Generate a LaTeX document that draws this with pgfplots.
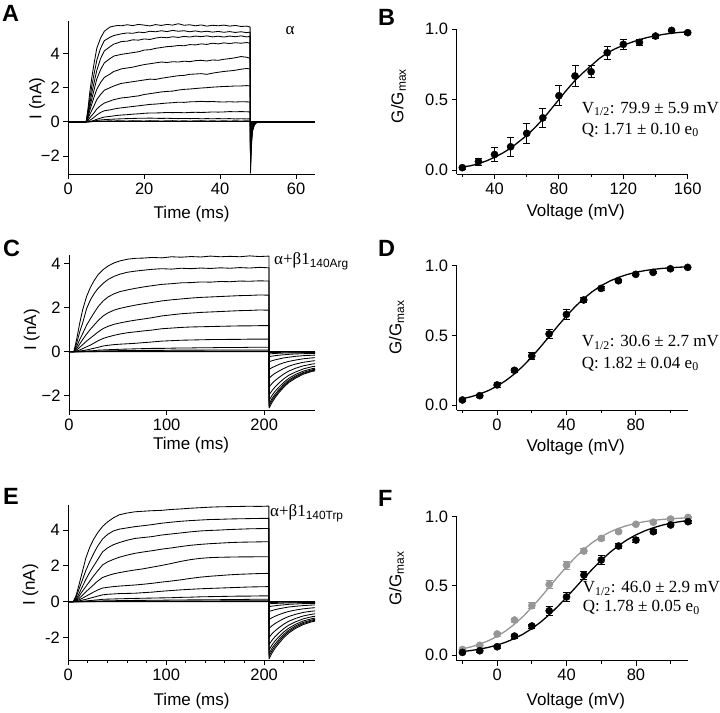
\documentclass[border=0pt]{standalone}
\usepackage{pgfplots}
\pgfplotsset{compat=1.18}
\usepackage{pgfplotstable}
\usepackage{fontspec}
\setmainfont{Liberation Serif}
\setsansfont{Liberation Sans}
\definecolor{mygray}{RGB}{150,150,150}
\newcommand\tfont{\fontsize{16.5}{16.5}\selectfont\sffamily}
\newcommand\lfont{\fontsize{17}{17}\selectfont\sffamily}
\newcommand\afont{\fontsize{17}{17}\selectfont\rmfamily}
\newcommand\pfont{\fontsize{23.5}{23.5}\selectfont\sffamily\bfseries}

\pgfplotstableread{
t a1 a2 a3 a4 a5 a6 a7 a8 a9 a10 a11
0 0 0 0 0 0 0 0 0 0 0 0
4.7 0 0 0 0 0 0 0 0 0 0 0
5.2 0.8 0.6 0.5 0.4 0.3 0.2 0.1 0.04 0.01 0 0
5.7 1.8 1.4 1.1 0.9 0.7 0.45 0.25 0.1 0.03 0.01 0
6.2 2.6 2.1 1.7 1.35 1.05 0.68 0.38 0.17 0.05 0.03 0.01
6.7 3.3 2.7 2.2 1.8 1.4 0.9 0.5 0.25 0.08 0.05 0.02
7.5 4.3 3.6 3.0 2.5 1.9 1.3 0.75 0.4 0.15 0.08 0.03
8.5 4.9 4.3 3.7 3.05 2.3 1.6 0.95 0.55 0.22 0.11 0.04
9.5 5.3 4.75 4.15 3.45 2.6 1.85 1.1 0.65 0.28 0.13 0.05
11 5.55 4.95 4.4 3.7 2.8 2.0 1.22 0.7 0.32 0.15 0.06
12 5.6 5.05 4.55 3.85 2.95 2.1 1.3 0.75 0.35 0.16 0.05
13 5.64 5.1 4.62 3.9 3.02 2.18 1.35 0.79 0.38 0.17 0.07
14 5.62 5.15 4.7 3.95 3.1 2.25 1.4 0.82 0.4 0.18 0.06
15.5 5.68 5.2 4.72 4.0 3.15 2.3 1.43 0.86 0.42 0.19 0.05
17 5.63 5.18 4.8 4.05 3.2 2.35 1.48 0.9 0.45 0.2 0.07
18.5 5.7 5.25 4.78 4.1 3.28 2.4 1.52 0.94 0.47 0.21 0.06
20 5.66 5.22 4.85 4.2 3.35 2.45 1.6 0.98 0.5 0.21 0.05
21.5 5.61 5.3 4.82 4.22 3.4 2.5 1.65 1.02 0.52 0.22 0.07
23 5.69 5.27 4.9 4.3 3.45 2.48 1.7 1.04 0.52 0.21 0.06
24.5 5.64 5.33 4.95 4.35 3.5 2.55 1.75 1.07 0.53 0.2 0.05
26 5.7 5.28 4.92 4.4 3.47 2.6 1.78 1.1 0.55 0.21 0.06
27.5 5.66 5.35 4.98 4.42 3.52 2.65 1.8 1.12 0.54 0.2 0.07
29 5.74 5.3 4.94 4.47 3.5 2.7 1.86 1.15 0.55 0.19 0.05
30.5 5.65 5.33 5.0 4.45 3.55 2.72 1.9 1.14 0.53 0.2 0.06
32 5.68 5.27 4.96 4.52 3.52 2.78 1.92 1.17 0.55 0.19 0.05
33.5 5.62 5.32 5.02 4.5 3.58 2.8 1.95 1.18 0.56 0.2 0.06
35 5.67 5.26 4.98 4.56 3.6 2.82 1.98 1.2 0.55 0.18 0.07
36.5 5.6 5.3 5.03 4.53 3.56 2.78 2.0 1.18 0.56 0.19 0.05
38 5.65 5.25 4.97 4.6 3.62 2.85 2.03 1.19 0.58 0.18 0.06
39.5 5.62 5.29 5.01 4.56 3.6 2.9 2.05 1.17 0.57 0.19 0.05
41 5.66 5.24 4.96 4.62 3.66 2.95 2.07 1.16 0.58 0.18 0.06
42.5 5.6 5.28 5.02 4.58 3.7 2.98 2.08 1.18 0.6 0.19 0.05
44 5.64 5.23 4.98 4.63 3.75 3.02 2.1 1.16 0.59 0.17 0.06
45.5 5.58 5.27 5.03 4.6 3.82 3.08 2.1 1.18 0.6 0.18 0.05
47 5.6 5.22 4.97 4.64 3.78 3.12 2.12 1.17 0.59 0.17 0.06
47.9 5.55 5.25 5.0 4.6 3.72 3.1 2.1 1.16 0.58 0.18 0.05
48 -3.0 -2.8 -2.6 -2.3 -2.0 -1.6 -1.1 -0.7 -0.4 -0.2 -0.08
48.2 -1.6 -1.4 -1.25 -1.1 -0.95 -0.75 -0.5 -0.32 -0.18 -0.09 -0.04
48.5 -0.6 -0.5 -0.45 -0.4 -0.35 -0.28 -0.2 -0.12 -0.07 -0.03 -0.01
49 -0.2 -0.17 -0.15 -0.13 -0.11 -0.09 -0.06 -0.04 -0.02 -0.01 0
49.5 -0.06 -0.05 -0.05 -0.04 -0.03 -0.03 -0.02 -0.01 0 0 0
50.5 0 0 0 0 0 0 0 0 0 0 0
65 0 0 0 0 0 0 0 0 0 0 0
}\tabA

\pgfplotstableread{
t c1 c2 c3 c4 c5 c6 c7 c8 c9 c10 c11 c12
0 0 0 0 0 0 0 0 0 0 0 0 0
5 0 0 0 0 0 0 0 0 0 0 0 0
8 0.6 0.4 0.25 0.15 0.08 0.03 0.01 0 0 0 0 0
11 1.3 0.9 0.55 0.35 0.2 0.08 0.03 0.01 0 0 0 0
14 1.9 1.3 0.82 0.55 0.32 0.14 0.05 0.02 0.01 0 0 0
18 2.5 1.95 1.2 0.8 0.48 0.22 0.08 0.03 0.01 0.01 0 0
22 2.92 2.35 1.5 1.02 0.62 0.3 0.12 0.04 0.02 0.01 0 0
26 3.24 2.65 1.78 1.22 0.76 0.4 0.16 0.05 0.02 0.01 0 0
30 3.5 2.88 2.05 1.42 0.9 0.5 0.2 0.07 0.03 0.01 0.01 0
35 3.72 3.1 2.3 1.62 1.05 0.6 0.26 0.08 0.03 0.02 0.01 0
40 3.88 3.27 2.48 1.76 1.15 0.67 0.29 0.09 0.04 0.02 0.01 0
46 4.02 3.41 2.62 1.88 1.24 0.74 0.32 0.1 0.04 0.02 0.01 0
52 4.11 3.51 2.72 1.96 1.3 0.8 0.34 0.11 0.05 0.02 0.01 0
60 4.19 3.6 2.8 2.04 1.37 0.86 0.36 0.12 0.05 0.03 0.01 0
68 4.23 3.65 2.87 2.11 1.43 0.9 0.38 0.13 0.05 0.03 0.01 0
76 4.24 3.69 2.93 2.17 1.48 0.94 0.41 0.14 0.06 0.03 0.01 0
85 4.27 3.73 2.99 2.23 1.54 0.98 0.44 0.15 0.06 0.03 0.01 0
95 4.25 3.76 3.05 2.3 1.62 1.04 0.48 0.15 0.06 0.03 0.01 0
105 4.3 3.74 3.08 2.35 1.67 1.07 0.5 0.16 0.07 0.03 0.01 0
115 4.28 3.78 3.12 2.39 1.72 1.1 0.52 0.17 0.07 0.03 0.01 0
125 4.31 3.76 3.13 2.43 1.75 1.12 0.53 0.17 0.07 0.03 0.01 0
135 4.29 3.79 3.16 2.46 1.78 1.13 0.54 0.18 0.07 0.03 0.01 0
145 4.33 3.77 3.15 2.48 1.8 1.14 0.55 0.18 0.08 0.03 0.01 0
155 4.3 3.8 3.18 2.5 1.82 1.15 0.55 0.19 0.08 0.03 0.01 0
165 4.32 3.78 3.17 2.52 1.84 1.16 0.56 0.19 0.08 0.03 0.01 0
175 4.3 3.81 3.2 2.54 1.86 1.17 0.56 0.19 0.08 0.03 0.01 0
185 4.34 3.79 3.19 2.55 1.87 1.17 0.57 0.2 0.08 0.03 0.01 0
195 4.31 3.82 3.21 2.57 1.89 1.18 0.57 0.2 0.08 0.03 0.01 0
204.9 4.33 3.8 3.2 2.56 1.88 1.18 0.57 0.2 0.08 0.03 0.01 0
205 -2.55 -2.45 -2.35 -2.2 -1.95 -1.6 -1.2 -0.8 -0.45 -0.22 -0.1 -0.04
208 -2.30 -2.21 -2.12 -1.98 -1.76 -1.44 -1.08 -0.72 -0.41 -0.20 -0.09 -0.036
211 -2.09 -2.01 -1.93 -1.80 -1.60 -1.31 -0.98 -0.66 -0.37 -0.18 -0.08 -0.033
215 -1.86 -1.79 -1.72 -1.61 -1.42 -1.17 -0.88 -0.58 -0.33 -0.16 -0.07 -0.03
220 -1.61 -1.54 -1.48 -1.39 -1.23 -1.01 -0.76 -0.50 -0.28 -0.14 -0.06 -0.025
225 -1.40 -1.35 -1.29 -1.21 -1.07 -0.88 -0.66 -0.44 -0.25 -0.12 -0.055 -0.022
232 -1.20 -1.15 -1.10 -1.03 -0.92 -0.75 -0.56 -0.38 -0.21 -0.10 -0.05 -0.019
240 -1.02 -0.98 -0.94 -0.88 -0.78 -0.64 -0.48 -0.32 -0.18 -0.09 -0.04 -0.016
249 -0.89 -0.86 -0.82 -0.77 -0.68 -0.56 -0.42 -0.28 -0.16 -0.08 -0.035 -0.014
259 -0.82 -0.78 -0.75 -0.70 -0.62 -0.51 -0.38 -0.26 -0.14 -0.07 -0.03 -0.013
}\tabC

\pgfplotstableread{
t e1 e2 e3 e4 e5 e6 e7 e8 e9 e10 e11 e12
0 0 0 0 0 0 0 0 0 0 0 0 0
5 0 0 0 0 0 0 0 0 0 0 0 0
8 0.35 0.25 0.15 0.1 0.06 0.03 0.01 0 0 0 0 0
11 0.95 0.7 0.45 0.3 0.18 0.1 0.04 0.01 0 0 0 0
14 1.6 1.15 0.8 0.55 0.33 0.18 0.08 0.02 0.01 0 0 0
18 2.45 1.75 1.25 0.85 0.55 0.3 0.13 0.04 0.01 0.01 0 0
22 3.05 2.25 1.65 1.15 0.75 0.42 0.19 0.06 0.02 0.01 0 0
26 3.5 2.7 2.0 1.45 0.95 0.54 0.25 0.08 0.03 0.01 0 0
30 3.85 3.1 2.35 1.72 1.15 0.65 0.31 0.1 0.03 0.01 0.01 0
35 4.2 3.5 2.78 2.05 1.35 0.76 0.38 0.13 0.04 0.02 0.01 0
40 4.45 3.75 3.0 2.22 1.45 0.8 0.41 0.14 0.05 0.02 0.01 0
46 4.68 3.95 3.18 2.36 1.55 0.84 0.43 0.15 0.05 0.02 0.01 0
52 4.85 4.05 3.3 2.48 1.62 0.87 0.45 0.16 0.06 0.02 0.01 0
60 4.95 4.12 3.43 2.6 1.7 0.9 0.46 0.17 0.06 0.02 0.01 0
68 5.02 4.19 3.53 2.7 1.77 0.93 0.47 0.18 0.07 0.03 0.01 0
76 5.05 4.24 3.58 2.77 1.83 0.97 0.5 0.19 0.07 0.03 0.01 0
85 5.08 4.3 3.63 2.84 1.92 1.02 0.53 0.2 0.08 0.03 0.01 0
95 5.1 4.38 3.72 2.93 2.02 1.09 0.58 0.21 0.08 0.03 0.01 0
105 5.15 4.44 3.78 3.0 2.13 1.15 0.62 0.22 0.09 0.03 0.01 0
115 5.18 4.49 3.84 3.08 2.25 1.22 0.66 0.24 0.09 0.04 0.01 0
125 5.22 4.53 3.9 3.15 2.35 1.3 0.69 0.25 0.1 0.04 0.02 0
135 5.25 4.56 3.95 3.2 2.42 1.37 0.72 0.27 0.1 0.04 0.02 0
145 5.28 4.59 3.98 3.24 2.46 1.42 0.74 0.28 0.11 0.04 0.02 0
155 5.3 4.6 4.0 3.27 2.48 1.46 0.76 0.29 0.11 0.04 0.02 0
165 5.31 4.62 4.03 3.3 2.49 1.5 0.78 0.3 0.12 0.05 0.02 0
175 5.32 4.63 4.05 3.32 2.5 1.53 0.8 0.31 0.12 0.05 0.02 0
185 5.33 4.64 4.07 3.33 2.5 1.55 0.82 0.31 0.13 0.05 0.02 0
195 5.32 4.65 4.08 3.34 2.51 1.57 0.83 0.32 0.13 0.05 0.02 0
204.9 5.34 4.65 4.09 3.35 2.51 1.58 0.84 0.32 0.13 0.05 0.02 0
205 -3.2 -3.05 -2.9 -2.7 -2.4 -2.0 -1.5 -1.0 -0.55 -0.28 -0.12 -0.05
208 -2.88 -2.75 -2.61 -2.43 -2.16 -1.8 -1.35 -0.9 -0.5 -0.25 -0.11 -0.045
211 -2.62 -2.50 -2.38 -2.21 -1.97 -1.64 -1.23 -0.82 -0.45 -0.23 -0.1 -0.041
215 -2.34 -2.23 -2.12 -1.97 -1.75 -1.46 -1.10 -0.73 -0.40 -0.20 -0.09 -0.037
220 -2.02 -1.92 -1.83 -1.70 -1.51 -1.26 -0.95 -0.63 -0.35 -0.18 -0.08 -0.032
225 -1.76 -1.68 -1.60 -1.49 -1.32 -1.10 -0.83 -0.55 -0.30 -0.15 -0.07 -0.028
232 -1.50 -1.43 -1.36 -1.27 -1.13 -0.94 -0.71 -0.47 -0.26 -0.13 -0.06 -0.024
240 -1.28 -1.22 -1.16 -1.08 -0.96 -0.80 -0.60 -0.40 -0.22 -0.11 -0.05 -0.02
249 -1.12 -1.07 -1.02 -0.95 -0.84 -0.70 -0.53 -0.35 -0.19 -0.10 -0.04 -0.018
259 -1.02 -0.98 -0.93 -0.86 -0.77 -0.64 -0.48 -0.32 -0.18 -0.09 -0.04 -0.016
}\tabE

\pgfplotstableread{
v g e
20 0.017 0.01
30 0.06 0.025
40 0.11 0.05
50 0.165 0.065
60 0.26 0.07
70 0.37 0.07
80 0.527 0.07
90 0.667 0.072
100 0.697 0.042
110 0.832 0.048
120 0.891 0.035
130 0.905 0.02
140 0.95 0.015
150 0.99 0.01
160 0.974 0.01
}\ptsB

\pgfplotstableread{
v g
20 0.022
25 0.03
30 0.045
35 0.065
40 0.09
45 0.12
50 0.155
55 0.2
60 0.245
65 0.30
70 0.36
75 0.43
80 0.5
85 0.57
90 0.635
95 0.69
100 0.74
105 0.79
110 0.83
115 0.86
120 0.885
125 0.905
130 0.925
135 0.94
140 0.952
145 0.962
150 0.97
155 0.976
160 0.98
}\fitB

\pgfplotstableread{
v g e
-20 0.036 0.01
-10 0.067 0.01
0 0.144 0.015
10 0.249 0.015
20 0.352 0.025
30 0.51 0.03
40 0.65 0.035
50 0.754 0.02
60 0.837 0.015
70 0.892 0.01
80 0.938 0.01
90 0.952 0.01
100 0.978 0.01
110 0.988 0.005
}\ptsD

\pgfplotstableread{
v g
-20 0.0444
-15 0.0593
-10 0.0787
-5 0.1036
0 0.1353
5 0.1748
10 0.2230
15 0.2798
20 0.3447
25 0.416
30 0.4909
35 0.5663
40 0.6388
45 0.7054
50 0.7642
55 0.8144
60 0.8559
65 0.8894
70 0.9159
75 0.9365
80 0.9523
85 0.9643
90 0.9734
95 0.9802
100 0.9853
105 0.9891
110 0.9919
}\fitD

\pgfplotstableread{
v g e
-20 0.019 0.01
-10 0.031 0.01
0 0.06 0.01
10 0.137 0.015
20 0.21 0.015
30 0.32 0.03
40 0.42 0.03
50 0.578 0.03
60 0.687 0.03
70 0.788 0.02
80 0.831 0.02
90 0.892 0.015
100 0.94 0.01
110 0.964 0.01
}\ptsF

\pgfplotstableread{
v g e
-20 0.04 0.01
-10 0.07 0.01
0 0.152 0.015
10 0.253 0.015
20 0.357 0.02
30 0.51 0.03
40 0.65 0.03
50 0.752 0.02
60 0.843 0.015
70 0.892 0.01
80 0.945 0.01
90 0.96 0.01
100 0.983 0.01
110 0.995 0.005
}\ptsFg

\pgfplotstableread{
v g
-20 0.0249
-15 0.0327
-10 0.0426
-5 0.0556
0 0.0720
5 0.0929
10 0.1192
15 0.1515
20 0.1908
25 0.2373
30 0.2914
35 0.3518
40 0.4174
45 0.4861
50 0.5553
55 0.6225
60 0.6852
65 0.7418
70 0.7914
75 0.8336
80 0.8687
85 0.8972
90 0.9201
95 0.9383
100 0.9526
105 0.9637
110 0.9722
}\fitF

\pgfplotsset{
  myax/.style={scale only axis, anchor=south west,
    axis x line*=bottom, axis y line*=left,
    axis line style={-, line width=0.9pt},
    tick align=outside, major tick length=5pt, minor tick length=3pt,
    every tick/.style={black, line width=0.9pt},
    tick label style={font=\tfont},
    label style={font=\lfont},
    xlabel style={anchor=center}, ylabel style={anchor=center}},
  trace/.style={black, line width=0.85pt, line join=round, no markers},
  gvpts/.style={only marks, mark=*, mark size=3.6pt,
    error bars/.cd, y dir=both, y explicit, error mark=-,
    error bar style={line width=0.8pt},
    error mark options={rotate=90, line width=0.8pt, mark size=3.5pt}},
}

\begin{document}
\begin{tikzpicture}
\path[use as bounding box] (0pt,0pt) rectangle (720pt,712pt);

% Panel A
\begin{axis}[myax, at={(68.3pt,538pt)}, width=246.7pt, height=153pt,
  xmin=0, xmax=65, ymin=-3.05, ymax=5.9,
  xtick={0,20,40,60}, xticklabels={0,20,40,60},
  ytick={-2,0,2,4}, yticklabels={−2,0,2,4},
  xlabel={Time (ms)}, ylabel={I (nA)},
  xlabel style={at={(axis description cs:0.5,-0.262)}},
  ylabel style={at={(axis description cs:-0.127,0.493)}}]
\addplot[trace] coordinates {(0,0) (65,0)};
\pgfplotsinvokeforeach{1,...,11}{\addplot[trace] table[x=t,y=a#1]{\tabA};}
\end{axis}

% Panel B
\begin{axis}[myax, at={(456.7pt,538pt)}, width=231pt, height=145pt, clip=false,
  xmin=16.5, xmax=160, ymin=-0.028, ymax=1.0,
  xtick={40,80,120,160}, xticklabels={40,80,120,160},
  minor xtick={20,60,100,140},
  ytick={0,0.5,1}, yticklabels={0.0,0.5,1.0},
  xlabel={Voltage (mV)}, ylabel={G/G\textsubscript{max}},
  xlabel style={at={(axis description cs:0.515,-0.262)}},
  ylabel style={at={(axis description cs:-0.252,0.538)}}]
\addplot[black, line width=1.3pt, no markers] table[x=v,y=g]{\fitB};
\addplot[black, gvpts] table[x=v,y=g,y error=e]{\ptsB};
\end{axis}

% Panel C
\begin{axis}[myax, at={(69pt,302pt)}, width=246pt, height=155pt,
  xmin=0, xmax=252, ymin=-2.64, ymax=4.38,
  xtick={0,100,200}, xticklabels={0,100,200},
  ytick={-2,0,2,4}, yticklabels={−2,0,2,4},
  xlabel={Time (ms)}, ylabel={I (nA)},
  xlabel style={at={(axis description cs:0.496,-0.225)}},
  ylabel style={at={(axis description cs:-0.152,0.516)}}]
\addplot[trace] coordinates {(0,0) (252,0)};
\pgfplotsinvokeforeach{1,...,12}{\addplot[trace] table[x=t,y=c#1]{\tabC};}
\end{axis}

% Panel D
\begin{axis}[myax, at={(456.7pt,302pt)}, width=231pt, height=144.3pt, clip=false,
  xmin=-23.3, xmax=110, ymin=-0.036, ymax=1.0,
  xtick={0,40,80}, xticklabels={0,40,80},
  minor xtick={-20,20,60,100},
  ytick={0,0.5,1}, yticklabels={0.0,0.5,1.0},
  xlabel={Voltage (mV)}, ylabel={G/G\textsubscript{max}},
  xlabel style={at={(axis description cs:0.515,-0.256)}},
  ylabel style={at={(axis description cs:-0.26,0.572)}}]
\addplot[black, line width=1.3pt, no markers] table[x=v,y=g]{\fitD};
\addplot[black, gvpts] table[x=v,y=g,y error=e]{\ptsD};
\end{axis}

% Panel E
\begin{axis}[myax, at={(68.3pt,52pt)}, width=246.7pt, height=155pt,
  xmin=0, xmax=252, ymin=-3.26, ymax=5.4,
  xtick={0,100,200}, xticklabels={0,100,200},
  minor xtick={20,40,60,80,120,140,160,180,220,240},
  ytick={-2,0,2,4}, yticklabels={-2,0,2,4},
  xlabel={Time (ms)}, ylabel={I (nA)},
  xlabel style={at={(axis description cs:0.5,-0.262)}},
  ylabel style={at={(axis description cs:-0.153,0.484)}}]
\addplot[trace] coordinates {(0,0) (252,0)};
\pgfplotsinvokeforeach{1,...,12}{\addplot[trace] table[x=t,y=e#1]{\tabE};}
\end{axis}

% Panel F
\begin{axis}[myax, at={(456.7pt,51.3pt)}, width=231.3pt, height=144pt, clip=false,
  xmin=-23.3, xmax=110, ymin=-0.041, ymax=1.0,
  xtick={0,40,80}, xticklabels={0,40,80},
  minor xtick={-20,20,60,100},
  ytick={0,0.5,1}, yticklabels={0.0,0.5,1.0},
  xlabel={Voltage (mV)}, ylabel={G/G\textsubscript{max}},
  xlabel style={at={(axis description cs:0.515,-0.283)}},
  ylabel style={at={(axis description cs:-0.26,0.571)}}]
\addplot[mygray, line width=1.3pt, no markers] table[x=v,y=g]{\fitD};
\addplot[mygray, gvpts] table[x=v,y=g,y error=e]{\ptsFg};
\addplot[black, line width=1.3pt, no markers] table[x=v,y=g]{\fitF};
\addplot[black, gvpts] table[x=v,y=g,y error=e]{\ptsF};
\end{axis}

% panel letters
\node[anchor=north west, inner sep=0pt, font=\pfont] at (2pt,707pt) {A};
\node[anchor=north west, inner sep=0pt, font=\pfont] at (378pt,703pt) {B};
\node[anchor=north west, inner sep=0pt, font=\pfont] at (3pt,472pt) {C};
\node[anchor=north west, inner sep=0pt, font=\pfont] at (378pt,472pt) {D};
\node[anchor=north west, inner sep=0pt, font=\pfont] at (3pt,224pt) {E};
\node[anchor=north west, inner sep=0pt, font=\pfont] at (378pt,222pt) {F};

% annotations
\node[anchor=base, inner sep=0pt, font=\afont] at (290pt,677pt) {α};
\node[anchor=base west, inner sep=0pt, font=\afont] at (274pt,447pt) {α+β1\textsubscript{\sffamily 140Arg}};
\node[anchor=base west, inner sep=0pt, font=\afont] at (270pt,195pt) {α+β1\textsubscript{\sffamily 140Trp}};

\node[anchor=base west, inner sep=0pt, font=\afont] at (581.7pt,598.7pt) {V\textsubscript{1/2}: 79.9 ± 5.9 mV};
\node[anchor=base west, inner sep=0pt, font=\afont] at (581.7pt,577.7pt) {Q: 1.71 ± 0.10 e\textsubscript{0}};
\node[anchor=base west, inner sep=0pt, font=\afont] at (581.7pt,365.3pt) {V\textsubscript{1/2}: 30.6 ± 2.7 mV};
\node[anchor=base west, inner sep=0pt, font=\afont] at (581.7pt,343.7pt) {Q: 1.82 ± 0.04 e\textsubscript{0}};
\node[anchor=base west, inner sep=0pt, font=\afont] at (582.7pt,119.3pt) {V\textsubscript{1/2}: 46.0 ± 2.9 mV};
\node[anchor=base west, inner sep=0pt, font=\afont] at (582.7pt,100.3pt) {Q: 1.78 ± 0.05 e\textsubscript{0}};
\end{tikzpicture}
\end{document}
